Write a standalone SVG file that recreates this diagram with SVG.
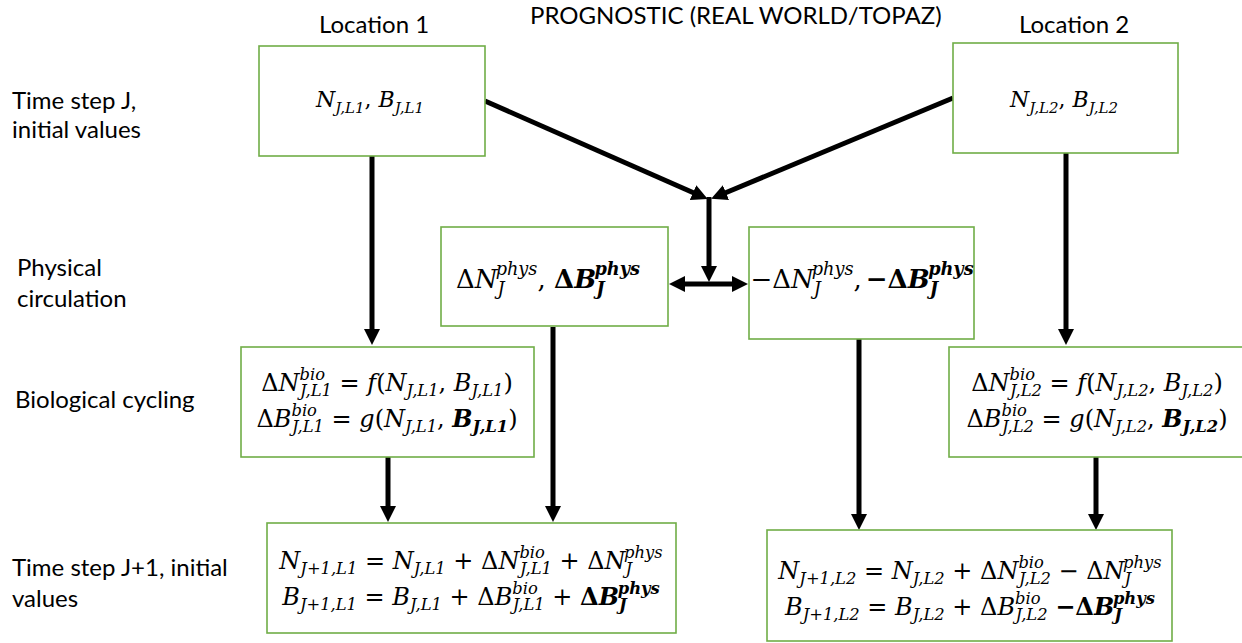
<svg xmlns="http://www.w3.org/2000/svg" width="1242" height="643" viewBox="0 0 1242 643">
<style>
.box { fill: #ffffff; stroke: #70AD47; stroke-width: 1.6; }
.lbl { font-family: Lato, "Liberation Sans", sans-serif; font-size: 24px; fill: #000; }
.m { font-family: "DejaVu Serif", "Liberation Serif", serif; font-size: 24px; font-style: italic; fill: #000; }
.m22 { font-size: 22px; }
.m26 { font-size: 26px; }
.s { font-size: 0.68em; }
.u { font-style: normal; }
.b { font-weight: bold; }
.con { stroke: #000; stroke-width: 5; fill: none; marker-end: url(#ah); }
</style>
<defs>
<marker id="ah" viewBox="0 0 16 16" refX="1" refY="8" markerWidth="16" markerHeight="16" markerUnits="userSpaceOnUse" orient="auto-start-reverse">
<path d="M0,0 L16,8 L0,16 z" fill="#000"/>
</marker>
</defs>
<rect width="1242" height="643" fill="#ffffff"/>

<g id="labels">
<text class="lbl" x="319" y="33">Location 1</text>
<text class="lbl" x="530" y="24">PROGNOSTIC (REAL WORLD/TOPAZ)</text>
<text class="lbl" x="1019" y="33">Location 2</text>
<text class="lbl" x="12" y="109">Time step J,</text>
<text class="lbl" x="12" y="138">initial values</text>
<text class="lbl" x="17" y="276">Physical</text>
<text class="lbl" x="17" y="307">circulation</text>
<text class="lbl" x="15" y="408">Biological cycling</text>
<text class="lbl" x="12" y="576">Time step J+1, initial</text>
<text class="lbl" x="12" y="607">values</text>
</g>

<g id="connectors">
<line class="con" x1="372" y1="156" x2="372" y2="330"/>
<line class="con" x1="1066" y1="153" x2="1066" y2="330"/>
<line class="con" x1="485" y1="101" x2="694" y2="193"/>
<line class="con" x1="953" y1="98" x2="725" y2="193"/>
<line class="con" x1="709" y1="197" x2="709" y2="267"/>
<line class="con" x1="684" y1="284" x2="733" y2="284" style="marker-start:url(#ah)"/>
<line class="con" x1="388" y1="457" x2="388" y2="507"/>
<line class="con" x1="553" y1="327" x2="553" y2="507"/>
<line class="con" x1="859" y1="339" x2="859" y2="515"/>
<line class="con" x1="1096" y1="457" x2="1096" y2="515"/>
</g>

<g id="node-init-l1">
<rect class="box" x="259" y="46" width="226" height="110"/>
<text class="m m22" x="370" y="107" text-anchor="middle">N<tspan class="s" dy="6">J,L1</tspan><tspan class="u" dy="-6">, </tspan>B<tspan class="s" dy="6">J,L1</tspan></text>
</g>

<g id="node-init-l2">
<rect class="box" x="953" y="43" width="225" height="110"/>
<text class="m m22" x="1064" y="107" text-anchor="middle">N<tspan class="s" dy="6">J,L2</tspan><tspan class="u" dy="-6">, </tspan>B<tspan class="s" dy="6">J,L2</tspan></text>
</g>

<g id="node-phys-l1">
<rect class="box" x="441" y="227" width="227" height="99"/>
<text class="m m26" x="548" y="288" text-anchor="middle"><tspan class="u">Δ</tspan>N<tspan class="s" dy="7">J</tspan><tspan class="s" dx="-9" dy="-20">phys</tspan><tspan class="u" dy="13">, </tspan><tspan class="b"><tspan class="u">Δ</tspan>B<tspan class="s" dy="7">J</tspan><tspan class="s" dx="-10" dy="-20">phys</tspan></tspan></text>
</g>

<g id="node-phys-l2">
<rect class="box" x="749" y="227" width="225" height="112"/>
<text class="m m26" x="862" y="288" text-anchor="middle"><tspan class="u">−Δ</tspan>N<tspan class="s" dy="7">J</tspan><tspan class="s" dx="-9" dy="-20">phys</tspan><tspan class="u" dy="13">,</tspan><tspan class="b" dx="4"><tspan class="u">−Δ</tspan>B<tspan class="s" dy="7">J</tspan><tspan class="s" dx="-10" dy="-20">phys</tspan></tspan></text>
</g>

<g id="node-bio-l1">
<rect class="box" x="241" y="347" width="293" height="110"/>
<text class="m" x="387" y="391" text-anchor="middle"><tspan class="u">Δ</tspan>N<tspan class="s" dy="-11">bio</tspan><tspan class="s" dx="-25" dy="16">J,L1</tspan><tspan class="u" dy="-5"> = </tspan>f<tspan class="u">(</tspan>N<tspan class="s" dy="5">J,L1</tspan><tspan class="u" dy="-5">, </tspan>B<tspan class="s" dy="5">J,L1</tspan><tspan class="u" dy="-5">)</tspan></text>
<text class="m" x="387" y="427" text-anchor="middle"><tspan class="u">Δ</tspan>B<tspan class="s" dy="-11">bio</tspan><tspan class="s" dx="-25" dy="16">J,L1</tspan><tspan class="u" dy="-5"> = </tspan>g<tspan class="u">(</tspan>N<tspan class="s" dy="5">J,L1</tspan><tspan class="u" dy="-5">, </tspan><tspan class="b">B<tspan class="s" dy="5">J,L1</tspan></tspan><tspan class="u" dy="-5">)</tspan></text>
</g>

<g id="node-bio-l2">
<rect class="box" x="949" y="347" width="300" height="110"/>
<text class="m" x="1097" y="391" text-anchor="middle"><tspan class="u">Δ</tspan>N<tspan class="s" dy="-11">bio</tspan><tspan class="s" dx="-25" dy="16">J,L2</tspan><tspan class="u" dy="-5"> = </tspan>f<tspan class="u">(</tspan>N<tspan class="s" dy="5">J,L2</tspan><tspan class="u" dy="-5">, </tspan>B<tspan class="s" dy="5">J,L2</tspan><tspan class="u" dy="-5">)</tspan></text>
<text class="m" x="1097" y="427" text-anchor="middle"><tspan class="u">Δ</tspan>B<tspan class="s" dy="-11">bio</tspan><tspan class="s" dx="-25" dy="16">J,L2</tspan><tspan class="u" dy="-5"> = </tspan>g<tspan class="u">(</tspan>N<tspan class="s" dy="5">J,L2</tspan><tspan class="u" dy="-5">, </tspan><tspan class="b">B<tspan class="s" dy="5">J,L2</tspan></tspan><tspan class="u" dy="-5">)</tspan></text>
</g>

<g id="node-next-l1">
<rect class="box" x="267" y="523" width="409" height="110"/>
<text class="m" x="471" y="569" text-anchor="middle">N<tspan class="s" dy="5">J+1,L1</tspan><tspan class="u" dy="-5"> = </tspan>N<tspan class="s" dy="5">J,L1</tspan><tspan class="u" dy="-5"> + Δ</tspan>N<tspan class="s" dy="-11">bio</tspan><tspan class="s" dx="-25" dy="16">J,L1</tspan><tspan class="u" dy="-5"> + Δ</tspan>N<tspan class="s" dy="5">J</tspan><tspan class="s" dx="-8" dy="-16">phys</tspan></text>
<text class="m" x="471" y="605" text-anchor="middle">B<tspan class="s" dy="5">J+1,L1</tspan><tspan class="u" dy="-5"> = </tspan>B<tspan class="s" dy="5">J,L1</tspan><tspan class="u" dy="-5"> + Δ</tspan>B<tspan class="s" dy="-11">bio</tspan><tspan class="s" dx="-25" dy="16">J,L1</tspan><tspan class="u" dy="-5"> + </tspan><tspan class="b"><tspan class="u">Δ</tspan>B<tspan class="s" dy="5">J</tspan><tspan class="s" dx="-9" dy="-16">phys</tspan></tspan></text>
</g>

<g id="node-next-l2">
<rect class="box" x="767" y="530" width="405" height="111"/>
<text class="m" x="970" y="579" text-anchor="middle">N<tspan class="s" dy="5">J+1,L2</tspan><tspan class="u" dy="-5"> = </tspan>N<tspan class="s" dy="5">J,L2</tspan><tspan class="u" dy="-5"> + Δ</tspan>N<tspan class="s" dy="-11">bio</tspan><tspan class="s" dx="-25" dy="16">J,L2</tspan><tspan class="u" dy="-5"> − Δ</tspan>N<tspan class="s" dy="5">J</tspan><tspan class="s" dx="-8" dy="-16">phys</tspan></text>
<text class="m" x="970" y="615" text-anchor="middle">B<tspan class="s" dy="5">J+1,L2</tspan><tspan class="u" dy="-5"> = </tspan>B<tspan class="s" dy="5">J,L2</tspan><tspan class="u" dy="-5"> + Δ</tspan>B<tspan class="s" dy="-11">bio</tspan><tspan class="s" dx="-25" dy="16">J,L2</tspan><tspan class="u" dy="-5"> </tspan><tspan class="b"><tspan class="u">−Δ</tspan>B<tspan class="s" dy="5">J</tspan><tspan class="s" dx="-9" dy="-16">phys</tspan></tspan></text>
</g>
</svg>
